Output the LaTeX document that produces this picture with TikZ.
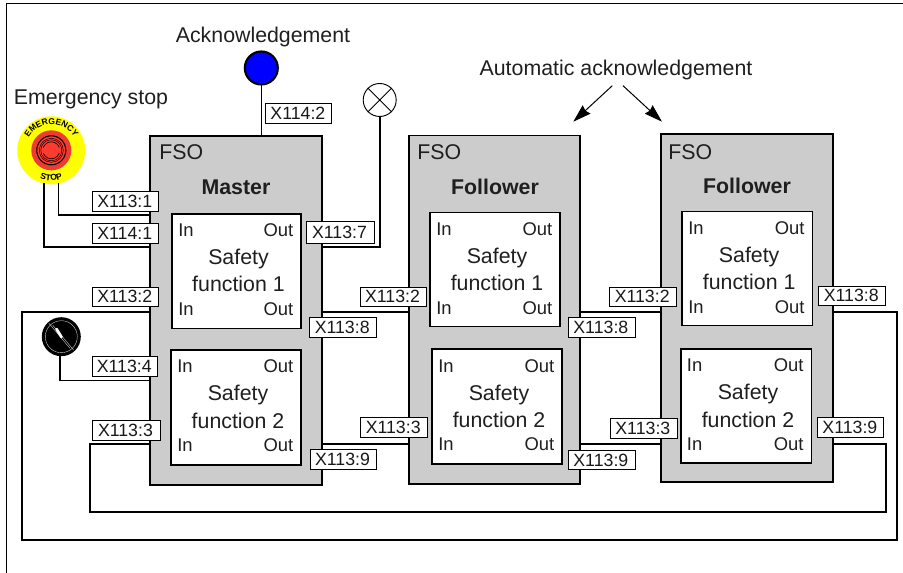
\documentclass[tikz,border=0pt]{standalone}
\usepackage{fontspec}
\setmainfont{Liberation Sans}
\usetikzlibrary{arrows.meta,decorations.text}
\definecolor{fsogray}{HTML}{CCCCCC}
\definecolor{ackblue}{HTML}{0000FF}
\definecolor{stopyellow}{HTML}{FFFF00}
\definecolor{stopred}{HTML}{EE3B33}
\definecolor{capred}{HTML}{FF3B30}
\tikzset{
  wire/.style={line width=1.2pt,line cap=rect,line join=miter},
  txt/.style={inner sep=0pt,anchor=base,font=\fontsize{16}{18}\selectfont,text=black!88},
  boldtxt/.style={txt,font=\fontsize{16}{18}\selectfont\bfseries},
  smalltxt/.style={txt,font=\fontsize{13.8}{16}\selectfont},
  pin/.style={draw=black,line width=0.6pt,fill=white,inner sep=0pt,font=\fontsize{13.3}{15}\selectfont,text=black!90},
  fsobox/.style={draw=black,line width=1.2pt,fill=fsogray,inner sep=0pt},
  funcbox/.style={draw=black,line width=1.2pt,fill=white,inner sep=0pt},
  ackarrow/.style={line width=0.75pt,-{Stealth[length=13.5pt,width=8.5pt,inset=1.2pt]}},
}
% rectangular node from its corners, in reference pixels
\newcommand{\rectnode}[6]{%
  \node[#1,minimum width={(#5-#3)*0.75pt},minimum height={(#6-#4)*0.75pt}] (#2)
    at ({(#3+#5)/2},{(#4+#6)/2}) {};}
\newcommand{\pinnode}[6]{%
  \node[pin,minimum width={(#4-#2)*0.75pt},minimum height={(#5-#3)*0.75pt}] (#1)
    at ({(#2+#4)/2},{(#3+#5)/2}) {#6\kern 1.2pt};}
% safety function box
\newcommand{\funcunit}[6]{%
  \rectnode{funcbox}{#1}{#2}{#3}{#4}{#5}
  \node[smalltxt,anchor=base west] (#1inA) at ({#2+6},{#3+23}) {In};
  \node[smalltxt,anchor=base east] (#1outA) at ({#4-7.5},{#3+23}) {Out};
  \node[txt] (#1sa) at ({(#2+#4)/2+2},{#3+51}) {Safety};
  \node[txt] (#1fn) at ({(#2+#4)/2+2},{#3+78}) {function #6};
  \node[smalltxt,anchor=base west] (#1inB) at ({#2+6},{#3+101.5}) {In};
  \node[smalltxt,anchor=base east] (#1outB) at ({#4-7.5},{#3+101.5}) {Out};}
\begin{document}
\begin{tikzpicture}[x=0.75pt,y=-0.75pt]
\useasboundingbox (0,0) rectangle (903,573);
% frame
\coordinate (frameA) at (6.5,573);
\coordinate (frameB) at (6.5,3.5);
\coordinate (frameC) at (903,3.5);
\draw[line width=0.8pt] (frameA) -- (frameB) -- (frameC);

% FSO boxes
\rectnode{fsobox}{master}{150}{136}{322}{485}
\rectnode{fsobox}{followA}{409}{135.5}{580}{484}
\rectnode{fsobox}{followB}{661}{134}{833}{482}

% devices
\node[circle,draw=black,line width=1.6pt,fill=ackblue,minimum size=33*0.75pt,inner sep=0pt] (ack) at (261.3,68) {};
\node[circle,draw=black,line width=0.7pt,fill=white,minimum size=33*0.75pt,inner sep=0pt] (lamp) at (379.7,100) {};
\draw[line width=0.7pt] (lamp.45) -- (lamp.225) (lamp.135) -- (lamp.315);
\node[circle,fill=stopyellow,minimum size=68*0.75pt,inner sep=0pt] (estop) at (51.3,150.3) {};
\node[circle,fill=stopred,minimum size=40*0.75pt,inner sep=0pt] (estopred) at (estop) {};
\node[circle,draw=black,line width=0.8pt,fill=capred,minimum size=29*0.75pt,inner sep=0pt] (estopcap) at (estop) {};
\begin{scope}[shift={(51.3,150.3)},x=0.75pt,y=0.75pt]
  \draw[line width=0.35pt] (0,0) circle (12);
  \draw[line width=0.35pt] (0,0) circle (10.5);
  \draw[line width=0.5pt] (20:8.5) arc (20:160:8.5) (200:8.5) arc (200:340:8.5);
  \path[decorate,decoration={text along path,text align=center,
    text={|\fontsize{6.4}{7}\selectfont\bfseries|EMERGENCY}}]
    (172:26) arc (172:8:26);
  \path[decorate,decoration={text along path,text align=center,
    text={|\fontsize{6.4}{7}\selectfont\bfseries|STOP}}]
    (230:30.5) arc (230:310:30.5);
\end{scope}
\node[circle,fill=black,minimum size=39*0.75pt,inner sep=0pt] (selector) at (61.3,336.7) {};
\node[circle,draw=white!80!black,line width=0.3pt,minimum size=32*0.75pt,inner sep=0pt] (selring) at (selector) {};
\draw[white!80!black,line width=0.3pt] ([shift={(1.5pt,-0.8pt)}]selring.130) -- ([shift={(1.5pt,-0.8pt)}]selring.310);
\draw[white!80!black,line width=0.3pt] ([shift={(-1.5pt,0.8pt)}]selring.130) -- ([shift={(-1.5pt,0.8pt)}]selring.310);
\draw[white,line width=2pt,line cap=round] (56.5,329) -- (61.5,337);

% wires
\draw[wire] (ack) -- (ack |- master.north);
\draw[wire] (lamp.south) |- (master.east |- 0,247);
\draw[wire] (estop.-78.6) |- (master.west |- 0,215);
\draw[wire] (estop.-102.4) |- (master.west |- 0,247);
\draw[wire] (selector.-94) |- (master.west |- 0,380.7);
\draw[wire] (master.west |- 0,312) -| (22,539.7) -| (896.7,312) -- (followB.east |- 0,312);
\draw[wire] (master.west |- 0,444) -| (90,511.7) -| (886,444) -- (followB.east |- 0,444);
\draw[wire] (master.east |- 0,312) -- (followA.west |- 0,312);
\draw[wire] (master.east |- 0,444) -- (followA.west |- 0,444);
\draw[wire] (followA.east |- 0,312) -- (followB.west |- 0,312);
\draw[wire] (followA.east |- 0,444) -- (followB.west |- 0,444);

% function boxes
\funcunit{mA}{172}{214}{301}{328.7}{1}
\funcunit{mB}{171}{350}{301}{464.7}{2}
\funcunit{fA}{430}{212.7}{560}{326.7}{1}
\funcunit{fB}{432}{349.3}{562}{463.7}{2}
\funcunit{gA}{682}{211.7}{812.3}{325.7}{1}
\funcunit{gB}{680.7}{349}{811.3}{462.7}{2}

% titles
\node[txt] (tack) at (263,42.5) {Acknowledgement};
\node[txt] (testop) at (91,104.5) {Emergency stop};
\node[txt] (tauto) at (616,76) {Automatic acknowledgement};
\node[txt,anchor=base west] (fsoM) at (159,160) {FSO};
\node[txt,anchor=base west] (fsoA) at (417,160) {FSO};
\node[txt,anchor=base west] (fsoB) at (668,159.5) {FSO};
\node[boldtxt] (tmaster) at (236,194.5) {Master};
\node[boldtxt] (tfa) at (495,194.5) {Follower};
\node[boldtxt] (tfb) at (747,193.5) {Follower};

% pin labels
\pinnode{p1}{265.7}{103}{331.7}{123}{X114:2}
\pinnode{p2}{92.5}{191}{158.7}{211}{X113:1}
\pinnode{p3}{92.5}{223}{158.7}{243}{X114:1}
\pinnode{p4}{306}{221.5}{374.7}{243}{X113:7}
\pinnode{p5}{92.5}{287}{158.7}{306.7}{X113:2}
\pinnode{p6}{309.3}{317.3}{376.7}{337.3}{X113:8}
\pinnode{p7}{92.5}{356.3}{157.7}{376.7}{X113:4}
\pinnode{p8}{92.5}{420.3}{160}{440.3}{X113:3}
\pinnode{p9}{310}{449.3}{376.7}{469.3}{X113:9}
\pinnode{p10}{360}{287}{426.7}{306.5}{X113:2}
\pinnode{p11}{360.3}{417.3}{427.7}{437.3}{X113:3}
\pinnode{p12}{568.3}{317.3}{635}{337.3}{X113:8}
\pinnode{p13}{568.3}{450.3}{635}{469.7}{X113:9}
\pinnode{p14}{609.7}{287}{676.3}{306}{X113:2}
\pinnode{p15}{610.3}{418.3}{677}{438.3}{X113:3}
\pinnode{p16}{818.3}{286}{885.7}{305}{X113:8}
\pinnode{p17}{817.7}{417.3}{883.7}{437.3}{X113:9}

% arrows
\coordinate (arrA) at (612.3,85.7);
\coordinate (arrB) at (623,85.7);
\coordinate (tipA) at (573.3,121.7);
\coordinate (tipB) at (662,121.7);
\draw[ackarrow] (arrA) -- (tipA);
\draw[ackarrow] (arrB) -- (tipB);
\end{tikzpicture}
\end{document}
